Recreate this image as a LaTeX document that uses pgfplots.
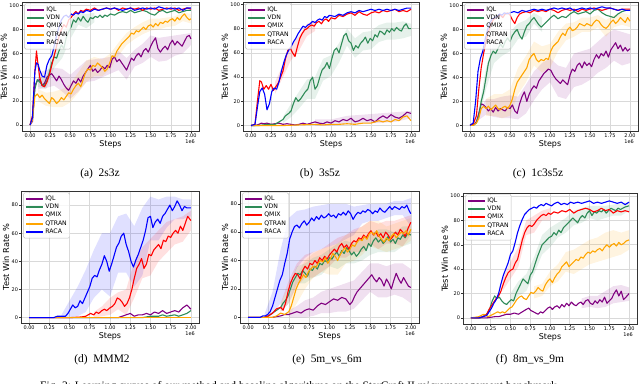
\documentclass[border=0pt]{standalone}
\usepackage{pgfplots}
\pgfplotsset{compat=1.18}
\usepackage{fontspec}
\setmainfont{DejaVu Sans}
\newfontfamily\capfont{Liberation Serif}

\definecolor{iqlc}{RGB}{128,0,128}
\definecolor{vdnc}{RGB}{46,139,87}
\definecolor{qmixc}{RGB}{255,0,0}
\definecolor{qtranc}{RGB}{255,165,0}
\definecolor{racac}{RGB}{0,0,255}

\pgfplotsset{
  panel/.style={
    scale only axis, anchor=south west,
    xmin=-0.1, xmax=2.1,
    xtick={0,0.25,0.5,0.75,1,1.25,1.5,1.75,2},
    xticklabels={0.00,0.25,0.50,0.75,1.00,1.25,1.50,1.75,2.00},
    grid=major, grid style={black!15, line width=0.6bp},
    axis line style={black!80, line width=0.6bp},
    tick style={black!80, line width=0.5bp},
    tick align=outside, tick pos=left, major tick length=1.6bp,
    ticklabel style={font=\fontsize{5}{6}\selectfont, inner sep=1.2bp},
    xlabel={Steps}, ylabel={Test Win Rate \%},
    xlabel style={font=\fontsize{8}{9}\selectfont, inner sep=1bp},
    ylabel style={font=\fontsize{8.3}{9}\selectfont, inner sep=1bp},
    legend entries={IQL,VDN,QMIX,QTRAN,RACA},
    legend cell align=left,
    legend style={at={(0.012,0.988)}, anchor=north west,
      font=\fontsize{6.2}{7}\selectfont, draw=black!25, rounded corners=1.5bp,
      fill=white, fill opacity=0.8, text opacity=1, inner sep=1.6bp,
      row sep=-0.3bp, nodes={inner sep=1.3bp}},
    legend image code/.code={\draw[#1, line width=2.1bp] (0bp,0bp) -- (17bp,0bp);},
    /pgf/number format/assume math mode=true,
  },
  yfull/.style={ytick={0,20,40,60,80,100}, yticklabels={0,20,40,60,80,100}},
  yeighty/.style={ytick={0,20,40,60,80}, yticklabels={0,20,40,60,80}},
  band/.style={draw=none, fill=#1, fill opacity=0.12, forget plot},
  iql/.style={color=iqlc, draw=iqlc, line width=1.1bp, line join=round},
  vdn/.style={color=vdnc, draw=vdnc, line width=1.1bp, line join=round},
  qmix/.style={color=qmixc, draw=qmixc, line width=1.1bp, line join=round},
  qtran/.style={color=qtranc, draw=qtranc, line width=1.1bp, line join=round},
  raca/.style={color=racac, draw=racac, line width=1.1bp, line join=round},
}

\begin{document}
\begin{tikzpicture}
\useasboundingbox (0,0) rectangle (640bp,384bp);

% (a) 2s3z
\begin{axis}[panel, yfull, name=pa, at={(22bp,253bp)}, width=177bp, height=129bp, ymin=-5, ymax=103]
\addplot[band=iqlc] coordinates {(0.1,44)(0.2,46)(0.3,48)(0.4,47)(0.5,42)(0.6,48)(0.7,54)(0.8,55)(0.9,56)(1.0,57)(1.1,62)(1.2,56)(1.3,63)(1.4,68)(1.5,75)(1.6,73)(1.7,74)(1.8,75)(1.9,76)(2.0,77)(2.0,67)(1.9,60)(1.8,58)(1.7,54)(1.6,53)(1.5,57)(1.4,52)(1.3,49)(1.2,38)(1.1,46)(1.0,43)(0.9,40)(0.8,37)(0.7,36)(0.6,28)(0.5,22)(0.4,28)(0.3,33)(0.2,31)(0.1,30)};
\addplot[band=qtranc] coordinates {(0.1,30)(0.2,27)(0.3,28)(0.4,30)(0.5,34)(0.6,44)(0.7,54)(0.8,57)(0.9,55)(1.0,60)(1.1,69)(1.2,77)(1.3,82)(1.4,86)(1.5,89)(1.6,89)(1.7,90)(1.8,91)(1.9,94)(2.0,93)(2.0,85)(1.9,87)(1.8,83)(1.7,82)(1.6,80)(1.5,79)(1.4,76)(1.3,72)(1.2,67)(1.1,58)(1.0,47)(0.9,41)(0.8,41)(0.7,36)(0.6,27)(0.5,19)(0.4,15)(0.3,15)(0.2,16)(0.1,20)};
\addplot[band=vdnc] coordinates {(0.1,40)(0.2,40)(0.3,66)(0.4,76)(0.5,88)(0.6,94)(0.7,93)(0.8,94)(0.8,86)(0.7,81)(0.6,84)(0.5,72)(0.4,56)(0.3,48)(0.2,30)(0.1,32)};
\addplot[iql] coordinates {(0,0)(0.03,3)(0.06,33)(0.09,37)(0.12,38)(0.15,33)(0.18,35)(0.21,40)(0.24,42)(0.27,43)(0.30,40)(0.33,37)(0.36,41)(0.39,38)(0.42,34)(0.45,31)(0.48,29)(0.51,33)(0.54,37)(0.57,35)(0.60,39)(0.63,36)(0.66,41)(0.69,44)(0.72,47)(0.75,50)(0.78,45)(0.81,47)(0.84,44)(0.87,46)(0.90,49)(0.93,47)(0.96,50)(0.99,48)(1.02,55)(1.05,57)(1.08,53)(1.11,55)(1.14,52)(1.17,49)(1.20,46)(1.23,51)(1.26,56)(1.29,54)(1.32,58)(1.35,60)(1.38,57)(1.41,62)(1.44,64)(1.47,61)(1.50,66)(1.53,70)(1.56,73)(1.59,64)(1.62,61)(1.65,64)(1.68,66)(1.71,63)(1.74,68)(1.77,71)(1.80,67)(1.83,70)(1.86,68)(1.89,66)(1.92,70)(1.95,74)(1.98,75)(2.00,72)};
\addplot[vdn] coordinates {(0,0)(0.03,5)(0.06,30)(0.09,38)(0.12,36)(0.15,34)(0.18,33)(0.21,37)(0.24,44)(0.27,52)(0.30,57)(0.33,56)(0.36,62)(0.39,67)(0.42,64)(0.45,73)(0.48,78)(0.51,82)(0.54,88)(0.57,86)(0.60,90)(0.63,87)(0.66,91)(0.69,88)(0.72,86)(0.75,90)(0.78,89)(0.81,91)(0.84,90)(0.87,92)(0.90,90)(0.93,92)(0.96,91)(1.00,93)(1.05,92)(1.10,94)(1.15,95)(1.20,94)(1.25,96)(1.30,94)(1.35,95)(1.40,96)(1.45,95)(1.50,93)(1.55,92)(1.60,95)(1.65,96)(1.70,94)(1.75,95)(1.80,96)(1.85,94)(1.90,95)(1.95,96)(2.00,96)};
\addplot[qmix] coordinates {(0,0)(0.03,8)(0.06,45)(0.08,62)(0.10,50)(0.12,40)(0.15,33)(0.18,32)(0.21,36)(0.24,42)(0.27,50)(0.30,58)(0.33,66)(0.36,74)(0.39,80)(0.42,84)(0.45,82)(0.48,88)(0.51,90)(0.54,93)(0.57,95)(0.60,93)(0.63,96)(0.66,95)(0.70,97)(0.75,96)(0.80,98)(0.85,96)(0.90,97)(0.95,98)(1.00,97)(1.05,98)(1.10,96)(1.15,98)(1.20,97)(1.25,98)(1.30,97)(1.35,98)(1.40,96)(1.45,98)(1.50,97)(1.55,98)(1.60,96)(1.65,97)(1.70,98)(1.75,97)(1.80,98)(1.85,96)(1.90,97)(1.95,98)(2.00,97)};
\addplot[qtran] coordinates {(0,0)(0.03,4)(0.06,24)(0.09,26)(0.12,23)(0.15,25)(0.18,22)(0.21,20)(0.24,18)(0.27,23)(0.30,21)(0.33,18)(0.36,20)(0.39,23)(0.42,21)(0.45,24)(0.48,27)(0.51,26)(0.54,30)(0.57,33)(0.60,35)(0.63,32)(0.66,38)(0.69,44)(0.72,47)(0.75,46)(0.78,50)(0.81,49)(0.84,52)(0.87,50)(0.90,48)(0.93,45)(0.96,47)(0.99,52)(1.02,58)(1.05,57)(1.08,62)(1.11,65)(1.14,68)(1.17,70)(1.20,72)(1.23,74)(1.26,77)(1.29,76)(1.32,79)(1.35,78)(1.38,80)(1.41,82)(1.44,80)(1.47,83)(1.50,84)(1.53,82)(1.56,85)(1.59,83)(1.62,86)(1.65,85)(1.68,87)(1.71,86)(1.74,88)(1.77,89)(1.80,87)(1.83,90)(1.86,88)(1.89,91)(1.92,93)(1.95,90)(1.98,88)(2.00,89)};
\addplot[raca] coordinates {(0,0)(0.03,6)(0.06,45)(0.08,52)(0.10,51)(0.12,46)(0.15,41)(0.18,40)(0.21,50)(0.24,55)(0.27,58)(0.30,66)(0.33,75)(0.36,82)(0.39,88)(0.42,91)(0.45,92)(0.48,90)(0.51,93)(0.54,92)(0.57,94)(0.60,93)(0.63,95)(0.66,94)(0.70,96)(0.75,95)(0.80,97)(0.85,96)(0.90,97)(0.95,98)(1.00,97)(1.05,98)(1.10,97)(1.15,96)(1.20,97)(1.25,98)(1.30,96)(1.35,97)(1.40,98)(1.45,97)(1.50,98)(1.55,97)(1.60,99)(1.65,98)(1.70,97)(1.75,98)(1.80,97)(1.85,98)(1.90,96)(1.95,98)(2.00,98)};
\end{axis}

% (b) 3s5z
\begin{axis}[panel, yfull, name=pb, at={(243bp,253bp)}, width=176bp, height=129bp, ymin=-4.5, ymax=102]
\addplot[band=vdnc] coordinates {(0.4,7)(0.5,18)(0.6,28)(0.7,38)(0.8,40)(0.9,55)(1.0,58)(1.1,68)(1.2,80)(1.3,72)(1.4,77)(1.5,78)(1.6,83)(1.7,85)(1.8,85)(1.9,86)(2.0,84)(2.0,74)(1.9,72)(1.8,71)(1.7,71)(1.6,69)(1.5,63)(1.4,62)(1.3,56)(1.2,66)(1.1,52)(1.0,41)(0.9,37)(0.8,22)(0.7,22)(0.6,14)(0.5,7)(0.4,2)};
\addplot[band=qmixc] coordinates {(0.3,36)(0.4,50)(0.5,66)(0.6,74)(0.7,84)(0.8,87)(0.8,78)(0.7,74)(0.6,62)(0.5,54)(0.4,40)(0.3,26)};
\addplot[band=iqlc] coordinates {(0.8,5)(1.0,5)(1.2,8)(1.4,9)(1.6,10)(1.8,11)(2.0,12)(2.0,6)(1.8,3)(1.6,2)(1.4,2)(1.2,1)(1.0,0)(0.8,0)};
\addplot[iql] coordinates {(0,0)(0.05,0)(0.10,1)(0.13,2)(0.16,1.5)(0.20,2)(0.25,1)(0.30,1.5)(0.35,2)(0.40,1)(0.45,1.5)(0.50,1)(0.55,0.5)(0.60,1)(0.65,2)(0.70,1)(0.75,2)(0.80,3)(0.85,2)(0.90,1.5)(0.95,3)(1.00,2)(1.05,4)(1.10,3)(1.15,5)(1.20,4)(1.25,6)(1.30,3)(1.35,4)(1.40,6)(1.45,4)(1.50,5)(1.55,3)(1.60,6)(1.65,8)(1.70,6)(1.75,9)(1.80,7)(1.85,6)(1.90,8)(1.95,11)(2.00,10)};
\addplot[vdn] coordinates {(0,0)(0.1,0)(0.2,1)(0.3,1)(0.35,3)(0.40,5)(0.43,8)(0.47,10)(0.50,12)(0.53,18)(0.56,23)(0.59,20)(0.62,22)(0.65,25)(0.68,28)(0.71,30)(0.74,37)(0.77,40)(0.80,30)(0.83,33)(0.86,40)(0.89,46)(0.92,48)(0.95,52)(0.98,47)(1.01,55)(1.04,62)(1.07,64)(1.10,60)(1.13,67)(1.16,74)(1.19,76)(1.22,70)(1.25,68)(1.28,62)(1.31,66)(1.34,64)(1.37,68)(1.40,70)(1.43,73)(1.46,68)(1.49,72)(1.52,70)(1.55,75)(1.58,73)(1.61,78)(1.64,77)(1.67,75)(1.70,79)(1.73,77)(1.76,80)(1.79,78)(1.82,81)(1.85,79)(1.88,78)(1.91,82)(1.94,84)(1.97,80)(2.00,80)};
\addplot[qmix] coordinates {(0,0)(0.05,1)(0.08,20)(0.11,37)(0.13,36)(0.16,30)(0.19,33)(0.22,30)(0.25,34)(0.28,29)(0.31,32)(0.34,35)(0.37,40)(0.40,45)(0.43,55)(0.46,62)(0.49,64)(0.52,60)(0.55,57)(0.58,65)(0.61,72)(0.64,76)(0.67,79)(0.70,80)(0.73,82)(0.76,83)(0.79,82)(0.82,85)(0.85,86)(0.88,84)(0.91,87)(0.94,88)(0.97,86)(1.00,89)(1.05,88)(1.10,91)(1.15,90)(1.20,92)(1.25,93)(1.30,91)(1.35,94)(1.40,92)(1.45,91)(1.50,93)(1.55,94)(1.60,93)(1.65,95)(1.70,94)(1.75,95)(1.80,96)(1.85,94)(1.90,95)(1.95,94)(2.00,96)};
\addplot[qtran] coordinates {(0,0)(0.2,0)(0.4,0)(0.6,0.5)(0.8,1)(0.9,0.5)(1.0,1)(1.1,1)(1.2,1.5)(1.3,1)(1.4,2)(1.5,2)(1.55,3)(1.6,4)(1.65,3)(1.7,4)(1.75,3)(1.8,5)(1.85,4)(1.9,7)(1.95,8)(2.00,4)};
\addplot[raca] coordinates {(0,0)(0.05,1)(0.08,15)(0.11,28)(0.14,31)(0.17,26)(0.20,13)(0.23,18)(0.26,28)(0.29,31)(0.32,30)(0.35,36)(0.38,45)(0.41,52)(0.44,58)(0.47,62)(0.50,65)(0.53,69)(0.56,72)(0.59,76)(0.62,79)(0.65,82)(0.68,81)(0.71,83)(0.74,84)(0.77,86)(0.80,85)(0.83,87)(0.86,88)(0.89,87)(0.92,90)(0.95,89)(0.98,91)(1.05,90)(1.10,92)(1.15,91)(1.20,93)(1.25,94)(1.30,93)(1.35,95)(1.40,94)(1.45,95)(1.50,96)(1.55,95)(1.60,96)(1.65,95)(1.70,96)(1.75,95)(1.80,96)(1.85,95)(1.90,96)(1.95,97)(2.00,97)};
\end{axis}

% (c) 1c3s5z
\begin{axis}[panel, yfull, name=pc, at={(462bp,253bp)}, width=176bp, height=129bp, ymin=-4.7, ymax=103]
\addplot[band=iqlc] coordinates {(0.1,10)(0.2,22)(0.3,22)(0.4,24)(0.5,25)(0.6,24)(0.7,34)(0.8,45)(0.9,52)(1.0,56)(1.1,50)(1.2,48)(1.3,60)(1.4,62)(1.5,64)(1.6,70)(1.7,76)(1.8,80)(1.9,78)(2.0,76)(2.0,52)(1.9,50)(1.8,54)(1.7,48)(1.6,44)(1.5,38)(1.4,34)(1.3,32)(1.2,22)(1.1,24)(1.0,36)(0.9,30)(0.8,21)(0.7,10)(0.6,5)(0.5,6)(0.4,6)(0.3,7)(0.2,9)(0.1,4)};
\addplot[band=qtranc] coordinates {(0.2,22)(0.3,26)(0.4,26)(0.5,30)(0.6,48)(0.7,58)(0.8,70)(0.9,66)(1.0,68)(1.1,78)(1.2,85)(1.3,86)(1.4,90)(1.5,90)(1.6,92)(1.7,88)(1.8,92)(1.9,94)(2.0,92)(2.0,82)(1.9,84)(1.8,82)(1.7,74)(1.6,82)(1.5,78)(1.4,78)(1.3,74)(1.2,71)(1.1,62)(1.0,48)(0.9,44)(0.8,50)(0.7,36)(0.6,26)(0.5,8)(0.4,6)(0.3,8)(0.2,8)};
\addplot[band=vdnc] coordinates {(0.1,10)(0.2,48)(0.3,70)(0.4,74)(0.5,78)(0.6,85)(0.7,88)(0.8,94)(0.9,90)(0.9,78)(0.8,85)(0.7,74)(0.6,72)(0.5,62)(0.4,58)(0.3,52)(0.2,30)(0.1,2)};
\addplot[iql] coordinates {(0,0)(0.04,0)(0.08,3)(0.11,10)(0.14,18)(0.17,17)(0.20,15)(0.23,12)(0.26,14)(0.29,11)(0.32,15)(0.35,12)(0.38,14)(0.41,13)(0.44,12)(0.47,15)(0.50,14)(0.53,17)(0.56,12)(0.59,10)(0.62,18)(0.65,24)(0.68,28)(0.71,20)(0.74,26)(0.77,30)(0.80,33)(0.83,31)(0.86,37)(0.89,40)(0.92,43)(0.95,45)(0.98,47)(1.01,46)(1.04,42)(1.07,39)(1.10,37)(1.13,35)(1.16,38)(1.19,36)(1.22,34)(1.25,42)(1.28,47)(1.31,45)(1.34,50)(1.37,52)(1.40,48)(1.43,53)(1.46,50)(1.49,52)(1.52,49)(1.55,55)(1.58,59)(1.61,56)(1.64,60)(1.67,58)(1.70,62)(1.73,57)(1.76,63)(1.79,66)(1.82,69)(1.85,64)(1.88,67)(1.91,62)(1.94,65)(1.97,62)(2.00,64)};
\addplot[vdn] coordinates {(0,0)(0.04,0)(0.08,2)(0.11,8)(0.14,20)(0.17,28)(0.20,40)(0.23,52)(0.26,58)(0.29,62)(0.32,60)(0.35,64)(0.38,68)(0.41,65)(0.44,70)(0.47,73)(0.50,70)(0.53,75)(0.56,78)(0.59,80)(0.62,75)(0.65,72)(0.68,78)(0.71,83)(0.74,85)(0.77,88)(0.80,90)(0.83,87)(0.86,84)(0.89,82)(0.92,84)(0.95,86)(0.98,88)(1.01,90)(1.05,92)(1.10,89)(1.15,91)(1.20,90)(1.25,93)(1.30,95)(1.35,93)(1.40,94)(1.45,95)(1.50,93)(1.55,96)(1.60,97)(1.65,94)(1.70,92)(1.75,91)(1.80,90)(1.85,93)(1.90,95)(1.95,96)(2.00,96)};
\addplot[qmix] coordinates {(0,0)(0.04,1)(0.08,8)(0.11,30)(0.14,48)(0.17,60)(0.20,70)(0.23,78)(0.26,84)(0.29,88)(0.32,90)(0.35,91)(0.38,92)(0.41,90)(0.44,93)(0.47,94)(0.50,92)(0.53,88)(0.56,85)(0.59,90)(0.62,93)(0.65,94)(0.70,95)(0.75,94)(0.80,96)(0.85,95)(0.90,96)(0.95,95)(1.00,97)(1.05,96)(1.10,94)(1.15,96)(1.20,97)(1.25,96)(1.30,97)(1.35,95)(1.40,97)(1.45,96)(1.50,97)(1.55,98)(1.60,97)(1.65,96)(1.70,97)(1.75,98)(1.80,97)(1.85,96)(1.90,97)(1.95,97)(2.00,97)};
\addplot[qtran] coordinates {(0,0)(0.04,0)(0.08,2)(0.11,6)(0.14,14)(0.17,16)(0.20,14)(0.23,16)(0.26,13)(0.29,15)(0.32,17)(0.35,14)(0.38,13)(0.41,15)(0.44,16)(0.47,14)(0.50,17)(0.53,22)(0.56,30)(0.59,36)(0.62,39)(0.65,42)(0.68,45)(0.71,48)(0.74,55)(0.77,58)(0.80,60)(0.83,55)(0.86,53)(0.89,55)(0.92,54)(0.95,56)(0.98,55)(1.01,62)(1.04,66)(1.07,68)(1.10,70)(1.13,74)(1.16,77)(1.19,75)(1.22,80)(1.25,82)(1.28,79)(1.31,80)(1.34,82)(1.37,85)(1.40,84)(1.43,83)(1.46,85)(1.49,84)(1.52,83)(1.55,86)(1.58,88)(1.61,87)(1.64,84)(1.67,82)(1.70,81)(1.73,83)(1.76,86)(1.79,88)(1.82,85)(1.85,87)(1.88,90)(1.91,88)(1.94,86)(1.97,90)(2.00,87)};
\addplot[raca] coordinates {(0,0)(0.04,2)(0.07,20)(0.10,45)(0.13,56)(0.16,62)(0.19,72)(0.22,80)(0.25,86)(0.28,89)(0.31,90)(0.34,91)(0.37,93)(0.40,92)(0.43,94)(0.46,93)(0.50,94)(0.55,95)(0.60,94)(0.65,96)(0.70,95)(0.75,96)(0.80,97)(0.85,96)(0.90,97)(0.95,96)(1.00,97)(1.05,98)(1.10,97)(1.15,98)(1.20,97)(1.25,98)(1.30,96)(1.35,97)(1.40,98)(1.45,97)(1.50,98)(1.55,97)(1.60,98)(1.65,99)(1.70,98)(1.75,98)(1.80,97)(1.85,96)(1.90,97)(1.95,96)(2.00,96)};
\end{axis}

% (d) MMM2
\begin{axis}[panel, yeighty, name=pd, at={(21bp,61bp)}, width=178bp, height=132bp, ymin=-3.8, ymax=90]
\addplot[band=racac] coordinates {(0.4,2)(0.5,12)(0.6,22)(0.7,34)(0.8,48)(0.9,60)(1.0,60)(1.1,72)(1.2,74)(1.3,65)(1.4,78)(1.5,86)(1.6,84)(1.7,86)(1.8,86)(1.9,84)(2.0,84)(2.0,72)(1.9,70)(1.8,70)(1.7,64)(1.6,55)(1.5,55)(1.4,30)(1.3,22)(1.2,32)(1.1,32)(1.0,15)(0.9,20)(0.8,14)(0.7,4)(0.6,1)(0.5,0)(0.4,0)};
\addplot[band=qmixc] coordinates {(0.8,4)(0.9,8)(1.0,14)(1.1,18)(1.2,20)(1.3,40)(1.4,50)(1.5,56)(1.6,62)(1.7,68)(1.8,70)(1.9,72)(2.0,76)(2.0,62)(1.9,54)(1.8,52)(1.7,46)(1.6,40)(1.5,30)(1.4,28)(1.3,14)(1.2,2)(1.1,6)(1.0,2)(0.9,1)(0.8,0)};
\addplot[iql] coordinates {(0,0)(0.5,0)(1.0,0)(1.1,0)(1.15,1)(1.2,2)(1.25,3)(1.3,1)(1.35,2)(1.4,2)(1.45,3)(1.5,2)(1.55,4)(1.6,3)(1.65,5)(1.7,3)(1.75,4)(1.8,5)(1.85,4)(1.9,7)(1.95,9)(2.00,6)};
\addplot[vdn] coordinates {(0,0)(0.5,0)(1.0,0)(1.4,0)(1.45,0.5)(1.5,1)(1.6,1)(1.65,2)(1.7,1)(1.75,1.5)(1.8,2)(1.85,1)(1.9,2)(1.95,3)(2.00,5)};
\addplot[qmix] coordinates {(0,0)(0.5,0)(0.65,0.5)(0.70,1)(0.73,2)(0.76,3)(0.80,2)(0.83,4)(0.86,3)(0.90,5)(0.93,6)(0.96,5)(1.00,7)(1.03,8)(1.06,10)(1.09,14)(1.12,13)(1.15,11)(1.18,8)(1.21,10)(1.24,14)(1.27,20)(1.30,28)(1.33,35)(1.36,38)(1.39,42)(1.42,35)(1.45,38)(1.48,45)(1.51,44)(1.54,48)(1.57,50)(1.60,52)(1.63,49)(1.66,55)(1.69,54)(1.72,58)(1.75,57)(1.78,60)(1.81,62)(1.84,60)(1.87,65)(1.90,62)(1.93,67)(1.96,72)(2.00,69)};
\addplot[qtran] coordinates {(0,0)(1,0)(2,0)};
\addplot[raca] coordinates {(0,0)(0.3,0)(0.35,1)(0.40,1)(0.45,1)(0.48,3)(0.51,6)(0.54,9)(0.57,7)(0.60,8)(0.63,12)(0.66,10)(0.69,14)(0.72,18)(0.75,22)(0.78,28)(0.81,30)(0.84,29)(0.87,34)(0.90,38)(0.93,44)(0.96,40)(0.99,33)(1.02,38)(1.05,44)(1.08,50)(1.11,53)(1.14,58)(1.17,60)(1.20,52)(1.23,47)(1.26,40)(1.29,36)(1.32,41)(1.35,45)(1.38,50)(1.41,55)(1.44,62)(1.47,71)(1.50,72)(1.53,64)(1.56,68)(1.59,70)(1.62,67)(1.65,72)(1.68,74)(1.71,77)(1.74,80)(1.77,76)(1.80,79)(1.83,83)(1.86,80)(1.89,76)(1.92,79)(1.95,78)(2.00,78)};
\end{axis}

% (e) 5m_vs_6m
\begin{axis}[panel, yeighty, name=pe, at={(240bp,61bp)}, width=179bp, height=132bp, ymin=-4, ymax=89]
\addplot[band=racac] coordinates {(0.2,2)(0.3,18)(0.4,48)(0.5,70)(0.6,75)(0.7,76)(0.8,78)(0.9,79)(1.0,80)(1.1,80)(1.2,80)(1.3,78)(1.4,79)(1.5,80)(1.6,80)(1.7,80)(1.8,82)(1.9,82)(2.0,84)(2.0,64)(1.9,72)(1.8,72)(1.7,70)(1.6,68)(1.5,68)(1.4,66)(1.3,58)(1.2,55)(1.1,52)(1.0,50)(0.9,48)(0.8,46)(0.7,42)(0.6,35)(0.5,22)(0.4,10)(0.3,2)(0.2,0)};
\addplot[band=iqlc] coordinates {(0.5,5)(0.6,8)(0.7,12)(0.8,14)(0.9,18)(1.0,20)(1.1,22)(1.2,24)(1.3,26)(1.4,32)(1.5,38)(1.6,38)(1.7,36)(1.8,38)(1.9,38)(2.0,34)(2.0,10)(1.9,14)(1.8,16)(1.7,14)(1.6,14)(1.5,18)(1.4,12)(1.3,6)(1.2,4)(1.1,4)(1.0,3)(0.9,3)(0.8,1)(0.7,0)(0.6,0)(0.5,0)};
\addplot[band=qtranc] coordinates {(0.5,8)(0.6,30)(0.7,40)(0.8,45)(0.9,48)(1.0,50)(1.1,52)(1.2,58)(1.3,60)(1.4,64)(1.5,68)(1.6,68)(1.7,64)(1.8,66)(1.9,68)(2.0,70)(2.0,54)(1.9,50)(1.8,48)(1.7,46)(1.6,48)(1.5,50)(1.4,44)(1.3,40)(1.2,38)(1.1,30)(1.0,30)(0.9,32)(0.8,28)(0.7,20)(0.6,10)(0.5,1)};
\addplot[band=qmixc] coordinates {(0.4,10)(0.5,26)(0.6,38)(0.7,44)(0.8,46)(0.9,48)(1.0,52)(1.1,56)(1.2,58)(1.3,62)(1.4,64)(1.5,68)(1.6,66)(1.7,68)(1.8,68)(1.9,70)(2.0,72)(2.0,58)(1.9,50)(1.8,52)(1.7,52)(1.6,48)(1.5,52)(1.4,46)(1.3,46)(1.2,42)(1.1,42)(1.0,36)(0.9,32)(0.8,28)(0.7,28)(0.6,22)(0.5,10)(0.4,4)};
\addplot[band=vdnc] coordinates {(0.4,10)(0.5,22)(0.6,36)(0.7,38)(0.8,42)(0.9,44)(1.0,48)(1.1,52)(1.2,54)(1.3,52)(1.4,56)(1.5,58)(1.6,62)(1.7,62)(1.8,60)(1.9,64)(2.0,64)(2.0,52)(1.9,50)(1.8,46)(1.7,46)(1.6,46)(1.5,44)(1.4,40)(1.3,38)(1.2,38)(1.1,34)(1.0,36)(0.9,30)(0.8,28)(0.7,24)(0.6,24)(0.5,10)(0.4,4)};
\addplot[iql] coordinates {(0,0)(0.3,0)(0.35,0.5)(0.40,1)(0.45,2)(0.50,2)(0.55,3)(0.60,4)(0.65,3)(0.70,5)(0.75,6)(0.80,5)(0.85,8)(0.90,10)(0.95,9)(1.00,11)(1.05,13)(1.10,12)(1.15,14)(1.20,13)(1.25,9)(1.28,11)(1.31,15)(1.34,18)(1.37,20)(1.40,22)(1.43,24)(1.46,26)(1.49,28)(1.52,30)(1.55,27)(1.58,25)(1.61,28)(1.64,26)(1.67,22)(1.70,27)(1.73,24)(1.76,20)(1.79,26)(1.82,31)(1.85,27)(1.88,24)(1.91,28)(1.94,25)(1.97,22)(2.00,21)};
\addplot[vdn] coordinates {(0,0)(0.2,0)(0.25,1)(0.30,3)(0.35,5)(0.40,7)(0.43,10)(0.46,12)(0.49,15)(0.52,20)(0.55,25)(0.58,28)(0.61,31)(0.64,30)(0.67,33)(0.70,31)(0.73,29)(0.76,34)(0.79,33)(0.82,36)(0.85,34)(0.88,38)(0.91,37)(0.94,40)(0.97,39)(1.00,42)(1.03,41)(1.06,44)(1.09,46)(1.12,43)(1.15,47)(1.18,45)(1.21,49)(1.24,47)(1.27,44)(1.30,46)(1.33,43)(1.36,45)(1.39,48)(1.42,50)(1.45,47)(1.48,52)(1.51,50)(1.54,54)(1.57,56)(1.60,53)(1.63,55)(1.66,52)(1.69,54)(1.72,57)(1.75,53)(1.78,55)(1.81,52)(1.84,56)(1.87,55)(1.90,58)(1.93,56)(1.96,59)(2.00,58)};
\addplot[qmix] coordinates {(0,0)(0.2,0)(0.25,1)(0.30,3)(0.35,6)(0.40,7)(0.43,5)(0.46,10)(0.49,18)(0.52,24)(0.55,28)(0.58,31)(0.61,30)(0.64,27)(0.67,33)(0.70,36)(0.73,34)(0.76,38)(0.79,37)(0.82,40)(0.85,38)(0.88,42)(0.91,40)(0.94,43)(0.97,41)(1.00,44)(1.03,46)(1.06,48)(1.09,46)(1.12,50)(1.15,52)(1.18,49)(1.21,51)(1.24,48)(1.27,52)(1.30,54)(1.33,53)(1.36,56)(1.39,55)(1.42,58)(1.45,56)(1.48,59)(1.51,61)(1.54,58)(1.57,60)(1.60,57)(1.63,59)(1.66,56)(1.69,60)(1.72,58)(1.75,55)(1.78,57)(1.81,60)(1.84,58)(1.87,62)(1.90,60)(1.93,57)(1.96,62)(2.00,67)};
\addplot[qtran] coordinates {(0,0)(0.3,0)(0.35,1)(0.40,3)(0.45,2)(0.50,4)(0.53,8)(0.56,14)(0.59,20)(0.62,24)(0.65,27)(0.68,30)(0.71,28)(0.74,32)(0.77,34)(0.80,36)(0.83,35)(0.86,38)(0.89,40)(0.92,39)(0.95,42)(0.98,38)(1.01,41)(1.04,45)(1.07,43)(1.10,40)(1.13,44)(1.16,47)(1.19,49)(1.22,46)(1.25,48)(1.28,51)(1.31,50)(1.34,53)(1.37,55)(1.40,54)(1.43,57)(1.46,55)(1.49,59)(1.52,60)(1.55,58)(1.58,61)(1.61,57)(1.64,55)(1.67,53)(1.70,56)(1.73,54)(1.76,57)(1.79,59)(1.82,56)(1.85,58)(1.88,60)(1.91,59)(1.94,61)(1.97,58)(2.00,62)};
\addplot[raca] coordinates {(0,0)(0.15,0)(0.18,1)(0.21,1)(0.24,2)(0.27,4)(0.30,8)(0.33,14)(0.36,20)(0.39,26)(0.42,30)(0.45,38)(0.48,45)(0.51,55)(0.54,60)(0.57,64)(0.60,65)(0.63,63)(0.66,66)(0.69,68)(0.72,65)(0.75,67)(0.78,70)(0.81,68)(0.84,71)(0.87,69)(0.90,72)(0.93,70)(0.96,71)(0.99,73)(1.02,71)(1.05,72)(1.08,70)(1.11,73)(1.14,72)(1.17,74)(1.20,72)(1.23,75)(1.26,73)(1.29,69)(1.32,72)(1.35,74)(1.38,73)(1.41,75)(1.44,74)(1.47,76)(1.50,75)(1.53,73)(1.56,75)(1.59,74)(1.62,77)(1.65,75)(1.68,74)(1.71,76)(1.74,78)(1.77,76)(1.80,78)(1.83,77)(1.86,76)(1.89,78)(1.92,77)(1.95,79)(1.98,75)(2.00,73)};
\end{axis}

% (f) 8m_vs_9m
\begin{axis}[panel, yfull, name=pf, at={(463bp,60bp)}, width=174bp, height=131bp, ymin=-5, ymax=102.5]
\addplot[band=qtranc] coordinates {(0.8,26)(0.9,28)(1.0,38)(1.1,44)(1.2,54)(1.3,56)(1.4,60)(1.5,64)(1.6,66)(1.7,70)(1.8,72)(1.9,70)(2.0,72)(2.0,56)(1.9,52)(1.8,50)(1.7,48)(1.6,46)(1.5,44)(1.4,40)(1.3,36)(1.2,38)(1.1,30)(1.0,26)(0.9,18)(0.8,16)};
\addplot[band=vdnc] coordinates {(0.5,20)(0.6,30)(0.7,36)(0.8,50)(0.9,68)(1.0,74)(1.1,78)(1.2,82)(1.3,88)(1.4,90)(1.5,92)(1.6,92)(1.7,92)(1.8,93)(1.9,94)(2.0,95)(2.0,88)(1.9,84)(1.8,84)(1.7,82)(1.6,80)(1.5,82)(1.4,78)(1.3,76)(1.2,70)(1.1,66)(1.0,58)(0.9,52)(0.8,36)(0.7,22)(0.6,18)(0.5,10)};
\addplot[band=qmixc] coordinates {(0.4,32)(0.5,46)(0.6,58)(0.7,80)(0.8,84)(0.9,88)(1.0,90)(1.0,80)(0.9,80)(0.8,70)(0.7,68)(0.6,42)(0.5,32)(0.4,22)};
\addplot[band=iqlc] coordinates {(1.4,16)(1.5,18)(1.6,18)(1.7,22)(1.8,26)(1.9,27)(2.0,25)(2.0,14)(1.9,13)(1.8,12)(1.7,9)(1.6,8)(1.5,9)(1.4,8)};
\addplot[iql] coordinates {(0,0)(0.2,0)(0.25,0.5)(0.30,1)(0.35,1)(0.40,2)(0.45,3)(0.50,3)(0.55,4)(0.60,3)(0.65,5)(0.70,7)(0.73,8)(0.76,6)(0.79,5)(0.82,4)(0.85,3)(0.88,5)(0.91,4)(0.94,6)(0.97,8)(1.00,9)(1.03,7)(1.06,9)(1.09,10)(1.12,8)(1.15,11)(1.18,9)(1.21,12)(1.24,10)(1.27,13)(1.30,11)(1.33,10)(1.36,12)(1.39,13)(1.42,11)(1.45,14)(1.48,15)(1.51,12)(1.54,11)(1.57,14)(1.60,12)(1.63,15)(1.66,13)(1.69,17)(1.72,12)(1.75,14)(1.78,16)(1.81,20)(1.84,23)(1.87,18)(1.90,22)(1.93,15)(1.96,17)(2.00,20)};
\addplot[vdn] coordinates {(0,0)(0.12,0)(0.15,1)(0.18,2)(0.21,4)(0.24,8)(0.27,14)(0.30,18)(0.33,16)(0.36,17)(0.39,14)(0.42,12)(0.45,11)(0.48,13)(0.51,15)(0.54,14)(0.57,20)(0.60,24)(0.63,28)(0.66,32)(0.69,30)(0.72,28)(0.75,35)(0.78,38)(0.81,44)(0.84,50)(0.87,55)(0.90,60)(0.93,62)(0.96,64)(0.99,66)(1.02,67)(1.05,70)(1.08,68)(1.11,72)(1.14,70)(1.17,74)(1.20,76)(1.23,78)(1.26,80)(1.29,82)(1.32,80)(1.35,78)(1.38,82)(1.41,84)(1.44,82)(1.47,86)(1.50,88)(1.53,84)(1.56,87)(1.59,86)(1.62,88)(1.65,87)(1.68,89)(1.71,86)(1.74,88)(1.77,90)(1.80,89)(1.83,88)(1.86,90)(1.89,89)(1.92,90)(1.95,91)(2.00,92)};
\addplot[qmix] coordinates {(0,0)(0.10,0)(0.15,1)(0.20,3)(0.23,7)(0.26,10)(0.29,13)(0.32,16)(0.35,18)(0.38,22)(0.41,28)(0.44,33)(0.47,37)(0.50,39)(0.53,40)(0.56,45)(0.59,48)(0.62,56)(0.65,64)(0.68,70)(0.71,74)(0.74,76)(0.77,75)(0.80,77)(0.83,80)(0.86,82)(0.89,84)(0.92,85)(0.95,84)(0.98,86)(1.01,85)(1.05,87)(1.10,86)(1.15,88)(1.20,87)(1.25,89)(1.30,86)(1.35,88)(1.40,89)(1.45,90)(1.50,89)(1.55,87)(1.60,88)(1.65,90)(1.70,88)(1.75,89)(1.80,86)(1.85,88)(1.90,87)(1.95,88)(2.00,87)};
\addplot[qtran] coordinates {(0,0)(0.10,1)(0.13,2)(0.16,3)(0.19,2)(0.22,1)(0.25,2)(0.28,3)(0.31,4)(0.34,5)(0.37,4)(0.40,5)(0.43,4)(0.46,6)(0.49,8)(0.52,9)(0.55,12)(0.58,15)(0.61,17)(0.64,18)(0.67,16)(0.70,15)(0.73,18)(0.76,21)(0.79,20)(0.82,22)(0.85,25)(0.88,23)(0.91,22)(0.94,27)(0.97,30)(1.00,32)(1.03,29)(1.06,33)(1.09,36)(1.12,38)(1.15,42)(1.18,44)(1.21,46)(1.24,42)(1.27,44)(1.30,46)(1.33,48)(1.36,47)(1.39,50)(1.42,49)(1.45,52)(1.48,54)(1.51,53)(1.54,55)(1.57,54)(1.60,56)(1.63,57)(1.66,55)(1.69,58)(1.72,60)(1.75,58)(1.78,60)(1.81,61)(1.84,59)(1.87,62)(1.90,60)(1.93,61)(1.96,63)(2.00,64)};
\addplot[raca] coordinates {(0,0)(0.10,0)(0.15,1)(0.20,2)(0.23,5)(0.26,8)(0.29,12)(0.32,15)(0.35,20)(0.38,28)(0.41,35)(0.44,40)(0.47,45)(0.50,52)(0.53,55)(0.56,62)(0.59,70)(0.62,76)(0.65,81)(0.68,85)(0.71,87)(0.74,89)(0.77,90)(0.80,91)(0.83,90)(0.86,92)(0.89,93)(0.92,92)(0.95,94)(0.98,93)(1.02,92)(1.06,94)(1.10,95)(1.14,93)(1.18,94)(1.22,93)(1.26,95)(1.30,94)(1.35,95)(1.40,94)(1.45,95)(1.50,96)(1.55,94)(1.60,95)(1.65,94)(1.70,95)(1.75,96)(1.80,95)(1.85,94)(1.90,95)(1.95,93)(2.00,95)};
\end{axis}

% offset labels
\foreach \p in {pa,pb,pc,pd,pe,pf}{
  \node[anchor=north east, font=\fontsize{5}{6}\selectfont, inner sep=0pt] at ([xshift=-4bp,yshift=-9bp]\p.south east) {1e6};
}

% captions
\begin{scope}[every node/.style={font=\capfont\fontsize{11.5}{13}\selectfont, inner sep=0pt}]
\node at (100bp,210bp) {(a)\ \ 2s3z};
\node at (320bp,210bp) {(b)\ \ 3s5z};
\node at (538bp,210bp) {(c)\ \ 1c3s5z};
\node at (102bp,24bp) {(d)\ \ MMM2};
\node at (327bp,24bp) {(e)\ \ 5m\_vs\_6m};
\node at (530bp,24bp) {(f)\ \ 8m\_vs\_9m};
\node[anchor=base west] at (40bp,-5.2bp) {Fig. 3: Learning curves of our method and baseline algorithms on the StarCraft II micromanagement benchmark.};
\end{scope}
\end{tikzpicture}
\end{document}
